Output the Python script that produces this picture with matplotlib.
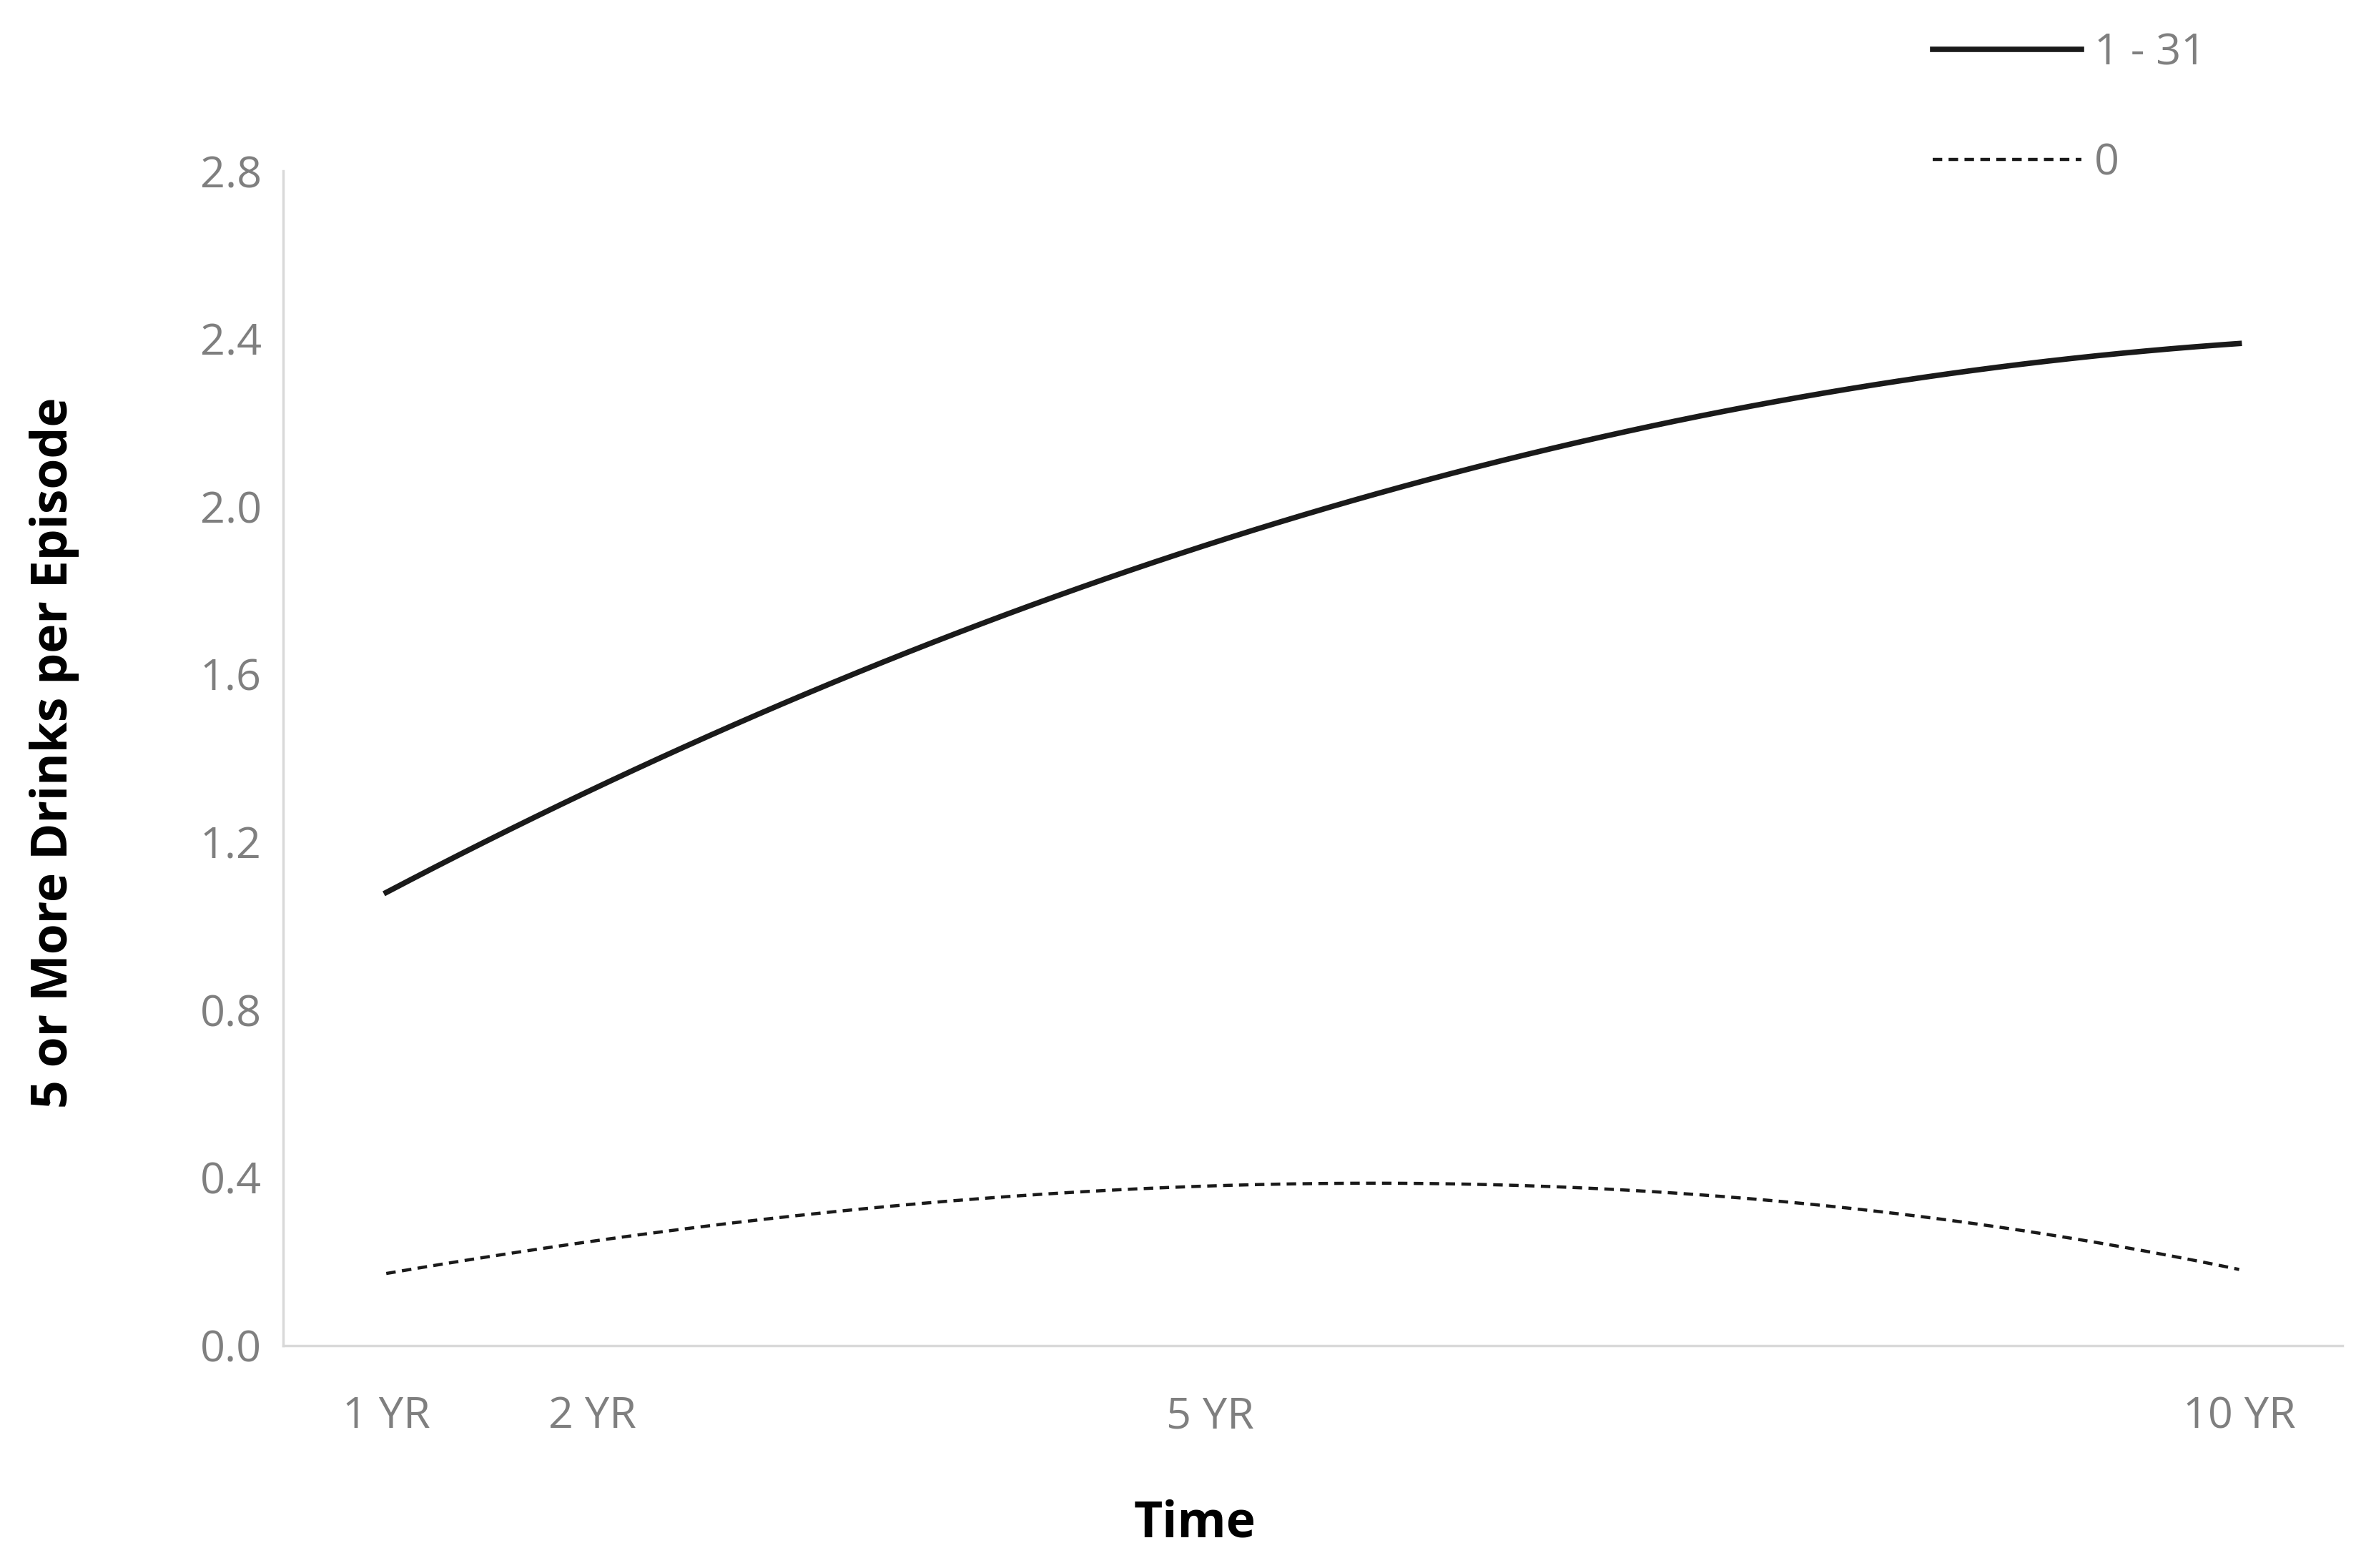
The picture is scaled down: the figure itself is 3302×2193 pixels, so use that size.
import numpy as np
import matplotlib
matplotlib.use("Agg")
import matplotlib.pyplot as plt
from matplotlib.lines import Line2D

plt.rcParams['font.family'] = ['Open Sans', 'DejaVu Sans']

years = [1, 2, 3, 4, 5, 6, 7, 8, 9, 10]
group_1_31 = [1.08, 1.325, 1.545, 1.74, 1.91, 2.056, 2.18, 2.27, 2.34, 2.39]
group_0 = [0.17, 0.25, 0.31, 0.355, 0.378, 0.385, 0.37, 0.335, 0.27, 0.18]
xtick_pos = [1, 2, 5, 10]
xtick_labels = ["1 YR", "2 YR", "5 YR", "10 YR"]
yticks = [0.0, 0.4, 0.8, 1.2, 1.6, 2.0, 2.4, 2.8]

fig = plt.figure(figsize=(33.02, 21.93), dpi=100)
ax = fig.add_axes([0.12, 0.142, 0.872, 0.749])

xs = np.linspace(1, 10, 300)
c1 = np.polyfit(years, group_1_31, 3)
c0 = np.polyfit(years, group_0, 3)
ax.plot(xs, np.polyval(c1, xs), color='#1a1a1a', lw=5.5)
ax.plot(xs, np.polyval(c0, xs), color='#1a1a1a', lw=3.2, ls=(0, (3, 2)))

ax.set_xlim(0.5, 10.5)
ax.set_ylim(0, 2.8)
ax.set_xticks(xtick_pos)
ax.set_xticklabels(xtick_labels)
ax.set_yticks(yticks)
ax.set_yticklabels([f"{v:.1f}" for v in yticks])
ax.tick_params(length=0, labelsize=44, colors='#7f7f7f', pad=22)
ax.tick_params(axis='x', pad=50)
for s in ['top', 'right']:
    ax.spines[s].set_visible(False)
for s in ['left', 'bottom']:
    ax.spines[s].set_color('#d9d9d9')
    ax.spines[s].set_linewidth(2.5)

fig.text(0.506, 0.028, "Time", fontsize=50, fontweight='bold', ha='center', va='center')
fig.text(0.023, 0.52, "5 or More Drinks per Episode", fontsize=50, fontweight='bold',
         rotation=90, ha='center', va='center')

handles = [Line2D([], [], color='#1a1a1a', lw=5.5),
           Line2D([], [], color='#1a1a1a', lw=3.2, ls=(0, (3, 2)))]
leg = fig.legend(handles, ["1 - 31", "0"], loc='upper left', bbox_to_anchor=(0.802, 1.005),
                 frameon=False, fontsize=44, handlelength=3.4, labelspacing=1.55,
                 handletextpad=0.3)
for t in leg.get_texts():
    t.set_color('#7f7f7f')

fig.savefig("out.png", dpi=100)
